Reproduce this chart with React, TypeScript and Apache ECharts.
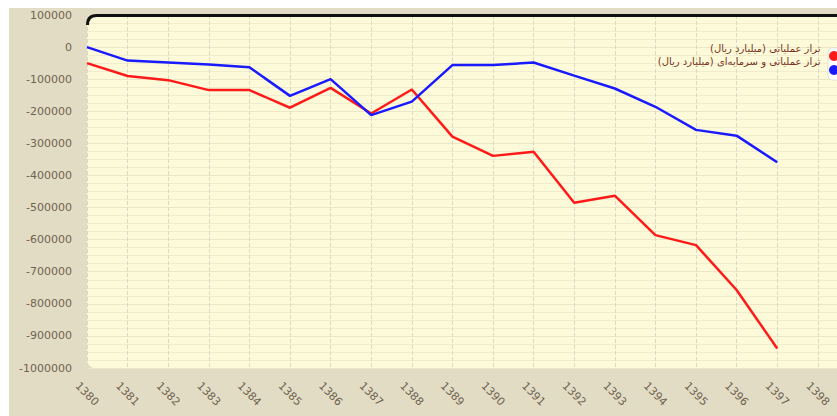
import React, { useEffect, useRef } from "react";
import * as echarts from "echarts";

const years = [1380, 1381, 1382, 1383, 1384, 1385, 1386, 1387, 1388, 1389, 1390, 1391, 1392, 1393, 1394, 1395, 1396, 1397];
const operational = [-50000, -90000, -103000, -134000, -134000, -189000, -127000, -207000, -132000, -279000, -339000, -326000, -485000, -463000, -586000, -617000, -757000, -939000];
const opCapital = [0, -42000, -48000, -54000, -63000, -152000, -100000, -212000, -170000, -56000, -56000, -48000, -89000, -129000, -186000, -258000, -276000, -359000];
const seriesNames = ["تراز عملیاتی (میلیارد ریال)", "تراز عملیاتی و سرمایه‌ای (میلیارد ریال)"];

const CHART_W = 900;
const CHART_H = 408;
const G_LEFT = 78;
const G_TOP = 7;
const G_BOTTOM = 48;

export default function App() {
  const ref = useRef<HTMLDivElement>(null);
  useEffect(() => {
    if (!ref.current) return;
    const chart = echarts.init(ref.current, null, { renderer: "svg" });
    const plotBottom = CHART_H - G_BOTTOM;
    const plotH = plotBottom - G_TOP;
    const xMax = 1398.5;
    const xMin = 1380;
    const step = 40.6;
    const plotW = (xMax - xMin) * step;
    const gRight = CHART_W - G_LEFT - plotW;
    chart.setOption({
      animation: false,
      backgroundColor: "#e3dcc5",
      grid: { left: G_LEFT, top: G_TOP, bottom: G_BOTTOM, right: gRight, show: false },
      graphic: [
        {
          type: "rect",
          z: -10,
          silent: true,
          shape: { x: G_LEFT, y: G_TOP, width: plotW + 40, height: plotH, r: [11, 0, 0, 8] },
          style: { fill: "#fcfad8" },
        },
        {
          type: "line",
          z: 10,
          silent: true,
          shape: { x1: G_LEFT + 9, y1: G_TOP + 0.5, x2: G_LEFT + plotW + 40, y2: G_TOP + 0.5 },
          style: { stroke: "#111", lineWidth: 3 },
        },
        {
          type: "bezierCurve",
          z: 10,
          silent: true,
          shape: { x1: G_LEFT + 0.5, y1: G_TOP + 10, x2: G_LEFT + 9.5, y2: G_TOP + 0.5, cpx1: G_LEFT + 0.5, cpy1: G_TOP + 0.5 },
          style: { stroke: "#111", lineWidth: 3, fill: null },
        },
        {
          type: "rect",
          z: 10,
          silent: true,
          shape: { x: 819, y: 40, width: 30, height: 32, r: 4 },
          style: { fill: "#ffffff", stroke: "#e2e0d4", lineWidth: 1 },
        },
        {
          type: "circle",
          z: 11,
          silent: true,
          shape: { cx: 825, cy: 48, r: 5 },
          style: { fill: "#ff1a1a" },
        },
        {
          type: "circle",
          z: 11,
          silent: true,
          shape: { cx: 825, cy: 62, r: 5 },
          style: { fill: "#1a1aff" },
        },
      ],
      legend: {
        orient: "vertical",
        align: "right",
        right: CHART_W - 832,
        top: 29,
        itemWidth: 11,
        itemHeight: 10,
        itemGap: 1,
        icon: "circle",
        itemStyle: { opacity: 0 },
        selectedMode: false,
        textStyle: { color: "#7a3322", fontSize: 10, fontFamily: "DejaVu Sans", lineHeight: 12 },
        data: seriesNames,
      },
      xAxis: {
        type: "value",
        min: xMin,
        max: xMax,
        interval: 1,
        axisLine: { show: false },
        axisTick: { show: false },
        axisLabel: {
          rotate: -45,
          margin: 26,
          align: "center",
          verticalAlign: "middle",
          color: "#6f6350",
          fontSize: 11,
          fontFamily: "DejaVu Sans",
          formatter: (v: number) => (Number.isInteger(v) ? String(v) : ""),
        },
        splitLine: { show: true, lineStyle: { color: "#dcd8c8", type: "dashed", width: 1 } },
      },
      yAxis: {
        type: "value",
        min: -1000000,
        max: 100000,
        interval: 100000,
        axisLine: { show: false },
        axisTick: { show: false },
        axisLabel: {
          margin: 15,
          color: "#6f6350",
          fontSize: 11,
          fontFamily: "DejaVu Sans",
          formatter: (v: number) => String(v),
        },
        splitLine: { show: true, lineStyle: { color: "#ece6c6", width: 1 } },
        minorTick: { show: false, splitNumber: 4 },
        minorSplitLine: { show: true, lineStyle: { color: "#f1ecce", width: 1 } },
      },
      series: [
        {
          name: seriesNames[0],
          type: "line",
          data: years.map((y, i) => [y, operational[i]]),
          showSymbol: false,
          symbol: "none",
          lineStyle: { color: "#ff1a1a", width: 2.5 },
          itemStyle: { color: "#ff1a1a" },
        },
        {
          name: seriesNames[1],
          type: "line",
          data: years.map((y, i) => [y, opCapital[i]]),
          showSymbol: false,
          symbol: "none",
          lineStyle: { color: "#1a1aff", width: 2.5 },
          itemStyle: { color: "#1a1aff" },
        },
      ],
    });
    return () => chart.dispose();
  }, []);
  return (
    <div style={{ position: "fixed", left: 9, top: 8, width: 828, height: CHART_H, overflow: "hidden" }}>
      <div ref={ref} style={{ width: CHART_W, height: CHART_H }} />
    </div>
  );
}
